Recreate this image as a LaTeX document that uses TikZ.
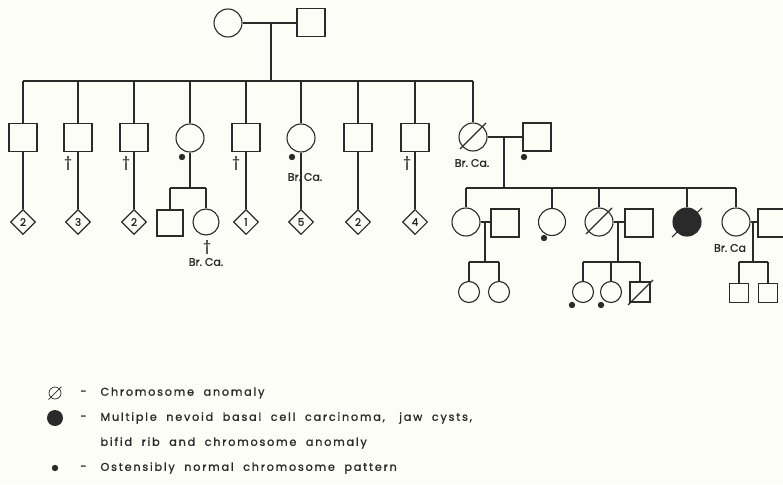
\documentclass[tikz,border=0pt]{standalone}
\usepackage{fontspec}
\setmainfont{Poppins}[FakeBold=1.2]
\newfontfamily\lgfont[LetterSpace=16,FakeBold=1.2]{Poppins}
\usetikzlibrary{shapes.geometric,calc}
\definecolor{ink}{HTML}{2A2A2A}
\definecolor{paper}{HTML}{FDFDF8}
\begin{document}
\begin{tikzpicture}[x=1pt,y=-1pt,line width=1.1pt,color=ink,
  male/.style={draw,rectangle,minimum size=28pt,inner sep=0},
  fem/.style={draw,circle,minimum size=28pt,inner sep=0},
  dia/.style={draw,diamond,aspect=1,minimum size=25pt,inner sep=0,font=\fontsize{10.5}{10}\selectfont},
  lbl/.style={inner sep=0,font=\fontsize{11}{11}\selectfont},
  leg/.style={inner sep=0,anchor=west,font=\lgfont\fontsize{11.2}{12}\selectfont},
  dg/.style={inner sep=0,font=\fontsize{13}{13}\selectfont},
  pdot/.style={circle,fill,minimum size=6.4pt,inner sep=0}]
\fill[paper] (0,0) rectangle (783,484);
\useasboundingbox (0,0) rectangle (783,484);
\clip (0,0) rectangle (783,484);

% generation I
\node[fem] (I1) at (228,23) {};
\node[male] (I2) at (311,22.5) {};
\coordinate (m1) at (271,23);
\coordinate (s1) at (271,81);
\coordinate (sL) at (23,81);
\coordinate (sR) at (473,81);
\draw (I1.east) -- (I2.west |- I1.east);
\draw (m1) -- (s1);
\draw (sL) -- (sR);

% generation II
\node[male] (a1) at (23,137.5) {};
\node[male] (a2) at (78,137.5) {};
\node[male] (a3) at (134,137.5) {};
\node[fem]  (a4) at (190,138) {};
\node[male] (a5) at (246,137.5) {};
\node[fem]  (a6) at (301,138) {};
\node[male] (a7) at (358,137.5) {};
\node[male] (a8) at (415,137.5) {};
\node[fem]  (a9) at (473,137) {};
\node[male] (a10) at (537,137) {};
\foreach \n in {1,...,9} { \draw (a\n.north |- sL) -- (a\n.north); }
\draw ($(a9)+(-13,12)$) -- ($(a9)+(13,-14)$);

% diamonds
\node[dia] (d1) at (23,222) {2};
\node[dia] (d2) at (78,222) {3};
\node[dia] (d3) at (134,222) {2};
\node[dia] (d5) at (246,222) {1};
\node[dia] (d6) at (301,222) {5};
\node[dia] (d7) at (358,222) {2};
\node[dia] (d8) at (415,222) {4};
\foreach \n in {1,2,3,5,6,7,8} { \draw (a\n.south) -- (d\n.north); }

% daggers, dots, labels gen II
\node[dg] (x2) at (68,163) {†};
\node[dg] (x3) at (126,163) {†};
\node[dg] (x5) at (236,163) {†};
\node[dg] (x8) at (407,163) {†};
\node[pdot] (p4) at (182,157) {};
\node[pdot] (p6) at (292,157) {};
\node[lbl] (l6) at (305,177) {Br.\ Ca.};
\node[lbl] (l9) at (472,163) {Br.\ Ca.};
\node[pdot] (p10) at (524,157) {};

% children of a4
\coordinate (k4) at (190,188);
\coordinate (k4a) at (170,188);
\coordinate (k4b) at (206,188);
\node[male,minimum size=26pt] (b1) at (170,223) {};
\node[fem,minimum size=26pt] (b2) at (206,222) {};
\draw (a4.south) -- (k4);
\draw (k4a) -- (k4b);
\draw (k4a) -- (b1.north);
\draw (k4b) -- (b2.north);
\node[dg] (xb2) at (207,247) {†};
\node[lbl] (lb2) at (206,262) {Br.\ Ca.};

% marriage a9 - a10
\coordinate (m2) at (504,137);
\coordinate (s2) at (504,188);
\draw (a9.east) -- (a10.west |- a9.east);
\draw (m2) -- (s2);

% generation III
\node[fem] (c1) at (466,222) {};
\node[male] (c1s) at (505,223) {};
\node[fem,minimum size=27pt] (c3) at (552,222) {};
\node[fem] (c4) at (599,222) {};
\node[male] (c4s) at (639,223) {};
\node[fem,fill] (c6) at (687,222) {};
\node[fem] (c7) at (736,222) {};
\node[male] (c7s) at (772,223) {};
\coordinate (s2L) at (466,188);
\coordinate (s2R) at (736,188);
\draw (s2L) -- (s2R);
\foreach \n in {1,3,4,6,7} { \draw (c\n.north |- s2L) -- (c\n.north); }
\draw ($(c4)+(-13,12)$) -- ($(c4)+(13,-14)$);
\draw ($(c6)+(-15,15)$) -- ($(c6)+(15,-14)$);
\node[pdot] (p3) at (544,238) {};
\node[lbl] (l7) at (730,248) {Br.\ Ca};

% c1 family
\coordinate (m3) at (485,222);
\coordinate (s3) at (485,262);
\coordinate (s3L) at (469,262);
\coordinate (s3R) at (499,262);
\draw (c1.east) -- (c1s.west |- c1.east);
\draw (m3) -- (s3);
\draw (s3L) -- (s3R);
\node[fem,minimum size=21pt] (e1) at (469,292) {};
\node[fem,minimum size=21pt] (e2) at (499,292) {};
\draw (s3L) -- (e1.north);
\draw (s3R) -- (e2.north);

% c4 family
\coordinate (m4) at (618,222);
\coordinate (s4) at (618,262);
\coordinate (s4L) at (583,262);
\coordinate (s4R) at (640,262);
\draw (c4.east) -- (c4s.west |- c4.east);
\draw (m4) -- (s4);
\draw (s4L) -- (s4R);
\node[fem,minimum size=21pt] (f1) at (583,292) {};
\node[fem,minimum size=21pt] (f2) at (611,292) {};
\node[male,minimum size=20pt] (f3) at (640,292) {};
\draw (s4L) -- (f1.north);
\draw (f2.north |- s4L) -- (f2.north);
\draw (s4R) -- (f3.north);
\draw ($(f3)+(-12,13)$) -- ($(f3)+(13,-12)$);
\node[pdot] (pf1) at (572,305) {};
\node[pdot] (pf2) at (601,305) {};

% c7 family
\coordinate (m5) at (753,222);
\coordinate (s5) at (753,262);
\coordinate (s5L) at (739,262);
\coordinate (s5R) at (768,262);
\draw (c7.east) -- (c7s.west |- c7.east);
\draw (m5) -- (s5);
\draw (s5L) -- (s5R);
\node[male,minimum size=19pt] (g1) at (739,293) {};
\node[male,minimum size=19pt] (g2) at (768,293) {};
\draw (s5L) -- (g1.north);
\draw (s5R) -- (g2.north);

% legend
\node[circle,draw,line width=0.7pt,minimum size=12pt,inner sep=0] (L1) at (55,393) {};
\draw[line width=0.7pt] ($(L1)+(-6.5,6.5)$) -- ($(L1)+(6.5,-6.5)$);
\node[circle,fill,minimum size=16pt,inner sep=0] (L2) at (55,418) {};
\node[pdot] (L4) at (55,468) {};
\node[leg] (h1) at (80,393) {-};
\node[leg] (h2) at (80,418) {-};
\node[leg] (h4) at (80,468) {-};
\node[leg] (t1) at (100,393) {Chromosome\ \ anomaly};
\node[leg] (t2) at (100,418) {Multiple\ \ nevoid\ \ basal\ \ cell\ \ carcinoma,\ \ \ jaw\ \ cysts,};
\node[leg] (t3) at (100,443) {bifid\ \ rib\ \ and\ \ chromosome\ \ anomaly};
\node[leg] (t4) at (100,468) {Ostensibly\ \ normal\ \ chromosome\ \ pattern};
\end{tikzpicture}
\end{document}
